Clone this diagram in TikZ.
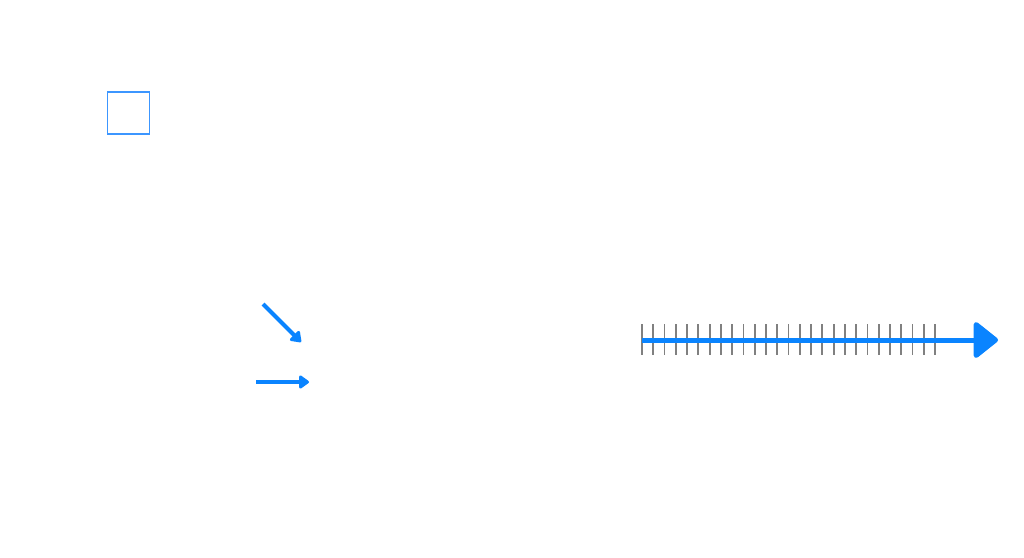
\documentclass[tikz,border=0pt]{standalone}
\usetikzlibrary{arrows.meta}
\definecolor{ablue}{RGB}{10,132,255}
\definecolor{sqblue}{RGB}{60,150,255}
\definecolor{tickgray}{RGB}{128,128,128}
\tikzset{
  boxstyle/.style={draw=sqblue, line width=1.3pt, minimum width=42pt, minimum height=42pt, inner sep=0pt},
  smallarrow/.style={draw=ablue, line width=4pt, -{Triangle[round, length=11pt, width=15pt]}},
  bigarrow/.style={draw=ablue, line width=5pt, -{Triangle[round, length=26pt, width=40pt]}},
  tickline/.style={draw=tickgray, line width=1.8pt}
}
\begin{document}
\begin{tikzpicture}[x=1pt,y=-1pt]
\useasboundingbox (0,0) rectangle (1024,557);
\node[boxstyle] (sq) at (128.5,113) {};
\coordinate (a1s) at (263,304);
\coordinate (a1e) at (301,342);
\draw[smallarrow] (a1s) -- (a1e);
\coordinate (a2s) at (256,382);
\coordinate (a2e) at (309,382);
\draw[smallarrow] (a2s) -- (a2e);
\foreach \i in {0,...,26} {
  \draw[tickline] (642+\i*11.27,324) -- (642+\i*11.27,355);
}
\coordinate (ls) at (642,340);
\coordinate (le) at (998,340);
\draw[bigarrow] (ls) -- (le);
\end{tikzpicture}
\end{document}
